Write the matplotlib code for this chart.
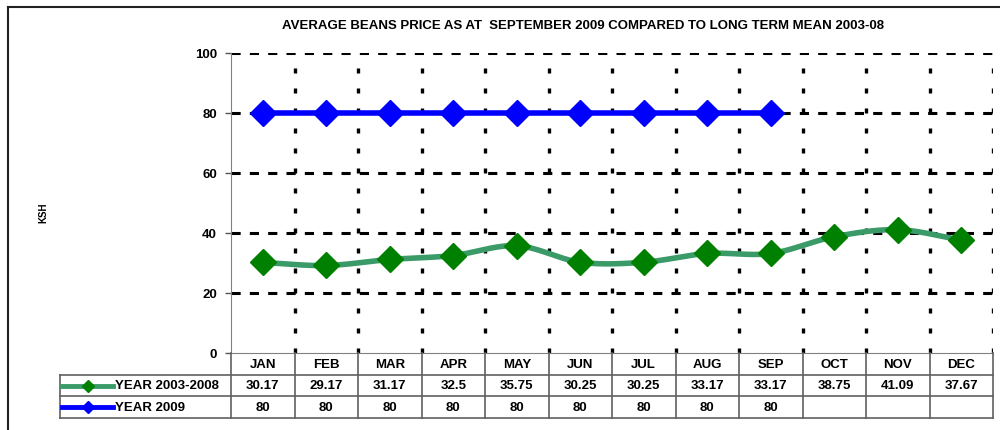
import matplotlib
matplotlib.use("Agg")
import matplotlib.pyplot as plt
from matplotlib.lines import Line2D
import numpy as np

plt.rcParams['font.family'] = ['Liberation Sans', 'DejaVu Sans']
plt.rcParams['font.weight'] = 'bold'

months = ["JAN", "FEB", "MAR", "APR", "MAY", "JUN", "JUL", "AUG", "SEP", "OCT", "NOV", "DEC"]
mean_0308 = [30.17, 29.17, 31.17, 32.5, 35.75, 30.25, 30.25, 33.17, 33.17, 38.75, 41.09, 37.67]
year_2009 = [80, 80, 80, 80, 80, 80, 80, 80, 80]
labels_0308 = ["30.17", "29.17", "31.17", "32.5", "35.75", "30.25", "30.25", "33.17", "33.17", "38.75", "41.09", "37.67"]
labels_2009 = ["80"] * 9 + [""] * 3
series_names = ["YEAR 2003-2008", "YEAR 2009"]
title = "AVERAGE BEANS PRICE AS AT  SEPTEMBER 2009 COMPARED TO LONG TERM MEAN 2003-08"

W, H = 1000, 431
fig = plt.figure(figsize=(W / 100, H / 100), dpi=100)

# outer chart border (left and top only visible)
fig.add_artist(Line2D([8 / W, 8 / W], [0, 1 - 8 / H], color="#222222", lw=1.5))
fig.add_artist(Line2D([8 / W, 1], [1 - 8 / H, 1 - 8 / H], color="#222222", lw=1.5))

x0, x1, ytop, ybot = 231, 993, 54, 354
ax = fig.add_axes([x0 / W, 1 - ybot / H, (x1 - x0) / W, (ybot - ytop) / H])


def smooth(x, y, n=20):
    # catmull-rom style smoothing like excel's smoothed line
    x = np.asarray(x, float)
    y = np.asarray(y, float)
    px = np.concatenate([[2 * x[0] - x[1]], x, [2 * x[-1] - x[-2]]])
    py = np.concatenate([[2 * y[0] - y[1]], y, [2 * y[-1] - y[-2]]])
    xs, ys = [], []
    t = np.linspace(0, 1, n)
    for i in range(1, len(px) - 2):
        p0, p1, p2, p3 = py[i - 1], py[i], py[i + 1], py[i + 2]
        q0, q1, q2, q3 = px[i - 1], px[i], px[i + 1], px[i + 2]
        ys.append(0.5 * (2 * p1 + (-p0 + p2) * t + (2 * p0 - 5 * p1 + 4 * p2 - p3) * t ** 2 + (-p0 + 3 * p1 - 3 * p2 + p3) * t ** 3))
        xs.append(0.5 * (2 * q1 + (-q0 + q2) * t + (2 * q0 - 5 * q1 + 4 * q2 - q3) * t ** 2 + (-q0 + 3 * q1 - 3 * q2 + q3) * t ** 3))
    return np.concatenate(xs), np.concatenate(ys)


xm = np.arange(len(months))
sx, sy = smooth(xm, mean_0308)
green_line = "#3a9a68"
green_mk = "#008000"
blue = "#0000ff"

# gridlines
for yv in [20, 40, 60, 80, 100]:
    ax.axhline(yv, color="black", lw=2.2, ls=(0, (3, 3)), zorder=1)
for xv in np.arange(0.5, 12, 1):
    ax.axvline(xv, color="black", lw=2.4, ls=(0, (1.5, 4.5)), zorder=1)

ax.plot(sx, sy, color=green_line, lw=4, zorder=3)
ax.plot(xm, mean_0308, ls="none", marker="D", ms=13, color=green_mk, zorder=4)
ax.plot(xm[:len(year_2009)], year_2009, color=blue, lw=4, marker="D", ms=13, zorder=4)

ax.set_xlim(-0.5, 11.5)
ax.set_ylim(0, 100)
ax.set_yticks([0, 20, 40, 60, 80, 100])
ax.set_xticks([])
ax.tick_params(axis="y", labelsize=9.5, length=4, width=1, color="#555555", pad=6)
for s in ["top", "right"]:
    ax.spines[s].set_visible(False)
ax.spines["left"].set_color("#808080")
ax.spines["bottom"].set_color("#808080")
fig.text(43 / W, 1 - 213 / H, "KSH", rotation=90, ha="center", va="center", fontsize=7)

fig.text(583 / W, 1 - 26 / H, title, ha="center", va="center", fontsize=9.5)

# data table below the plot
rows_y = [354, 376, 397, 419]
tl = "#606060"
fs = 9.5
leg_left = 60
for yy in rows_y[1:]:
    fig.add_artist(Line2D([leg_left / W, x1 / W], [1 - yy / H] * 2, color=tl, lw=1.2))
fig.add_artist(Line2D([leg_left / W] * 2, [1 - rows_y[1] / H, 1 - rows_y[3] / H], color=tl, lw=1.2))
cw = (x1 - x0) / 12
for k in range(13):
    xx = x0 + k * cw
    fig.add_artist(Line2D([xx / W] * 2, [1 - rows_y[0] / H, 1 - rows_y[3] / H], color=tl, lw=1.2))
for k, m in enumerate(months):
    xc = (x0 + (k + 0.5) * cw) / W
    fig.text(xc, 1 - (rows_y[0] + rows_y[1]) / 2 / H, m, ha="center", va="center", fontsize=fs)
    fig.text(xc, 1 - (rows_y[1] + rows_y[2]) / 2 / H, labels_0308[k], ha="center", va="center", fontsize=fs)
    fig.text(xc, 1 - (rows_y[2] + rows_y[3]) / 2 / H, labels_2009[k], ha="center", va="center", fontsize=fs)

for r, (name, lc, mc) in enumerate(zip(series_names, [green_line, blue], [green_mk, blue])):
    yc = 1 - (rows_y[r + 1] + rows_y[r + 2]) / 2 / H
    fig.add_artist(Line2D([62 / W, 113 / W], [yc, yc], color=lc, lw=3.5))
    fig.add_artist(Line2D([87.5 / W], [yc], marker="D", ms=6, color=mc, ls="none"))
    fig.text(115 / W, yc, name, ha="left", va="center", fontsize=fs)

fig.savefig("out.png", dpi=100)
